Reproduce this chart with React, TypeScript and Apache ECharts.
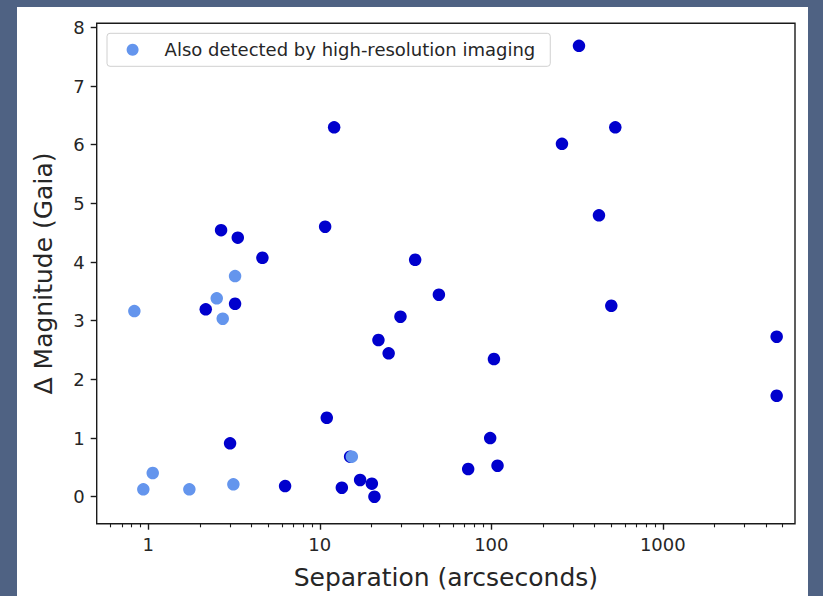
import React, { useEffect, useRef } from "react";
import * as echarts from "echarts";

// Points also detected by high-resolution imaging
const hiResX = [0.829, 0.935, 1.061, 1.735, 2.506, 2.716, 3.205, 3.133, 15.37];
const hiResY = [3.165, 0.126, 0.404, 0.126, 3.381, 3.034, 3.761, 0.211, 0.682];

// All other pairs
const otherX = [
  324.5, 12.12, 258.2, 528.4, 10.74, 424.4, 2.656, 3.324, 4.627, 35.97, 49.47,
  2.162, 3.205, 500.8, 29.53, 4613, 21.97, 25.2, 103.6, 4613, 10.98, 2.997, 98.5,
  15.02, 73.3, 108.7, 6.273, 13.44, 17.18, 20.11, 20.82,
];
const otherY = [
  7.686, 6.296, 6.016, 6.296, 4.602, 4.796, 4.543, 4.416, 4.073, 4.039, 3.443,
  3.194, 3.289, 3.255, 3.068, 2.727, 2.671, 2.444, 2.347, 1.721, 1.346, 0.91, 1.0,
  0.682, 0.472, 0.528, 0.182, 0.153, 0.285, 0.222, 0.0,
];

const xMajorTicks = [1, 10, 100, 1000];
const xMinorTicks = [
  0.6, 0.7, 0.8, 0.9, 2, 3, 4, 5, 6, 7, 8, 9, 20, 30, 40, 50, 60, 70, 80, 90,
  200, 300, 400, 500, 600, 700, 800, 900, 2000, 3000, 4000, 5000,
];
const yTicks = [0, 1, 2, 3, 4, 5, 6, 7, 8];

const legendLabel = "Also detected by high-resolution imaging";
const xTitle = "Separation (arcseconds)";
const yTitle = "Δ Magnitude (Gaia)";

const X_MIN = 0.5;
const X_MAX = 5900;

const FONT = "DejaVu Sans";
const TEXT = "#262626";
const SPINE = "#1a1a1a";

export default function App() {
  const ref = useRef<HTMLDivElement>(null);

  useEffect(() => {
    if (!ref.current) return;
    const chart = echarts.init(ref.current, undefined, { renderer: "svg" });
    // helper axes (tick marks only) share the log axis' pixel range
    const tickAxis = (values: number[], length: number, width: number) => ({
      type: "value",
      min: Math.log10(X_MIN),
      max: Math.log10(X_MAX),
      position: "bottom",
      gridIndex: 0,
      axisLine: { show: false, onZero: false },
      splitLine: { show: false },
      axisLabel: { show: false },
      axisPointer: { show: false },
      axisTick: {
        show: true,
        interval: 0,
        customValues: values.map((v) => Math.log10(v)),
        length,
        lineStyle: { color: SPINE, width },
      },
    });
    const option = {
      animation: false,
      backgroundColor: "transparent",
      textStyle: { fontFamily: FONT },
      grid: {
        left: 96.7,
        top: 23.3,
        right: 28,
        bottom: 72.3,
        show: true,
        borderColor: SPINE,
        borderWidth: 1.4,
        backgroundColor: "transparent",
      },
      legend: {
        data: [legendLabel],
        left: 107,
        top: 33.3,
        orient: "horizontal",
        icon: "circle",
        itemWidth: 12,
        itemHeight: 12,
        padding: [7.5, 15, 7.5, 19.6],
        backgroundColor: "#ffffff",
        borderColor: "#d0d0d0",
        borderWidth: 1,
        borderRadius: 3,
        textStyle: {
          fontFamily: FONT,
          fontSize: 18,
          color: TEXT,
          lineHeight: 18,
          padding: [0, 0, 0, 21],
        },
      },
      xAxis: [
        {
          type: "log",
          logBase: 10,
          min: X_MIN,
          max: X_MAX,
          position: "bottom",
          axisLine: { show: false, onZero: false },
          splitLine: { show: false },
          axisTick: { show: false },
          axisLabel: {
            customValues: xMajorTicks,
            interval: 0,
            formatter: (v: number) => String(Math.round(v)),
            fontSize: 18,
            fontFamily: FONT,
            color: TEXT,
            margin: 12,
          },
          name: xTitle,
          nameLocation: "middle",
          nameGap: 41,
          nameTextStyle: { fontSize: 25, color: TEXT, fontFamily: FONT },
        },
        tickAxis(xMajorTicks, 6, 1.4),
        tickAxis(xMinorTicks, 3.6, 1.1),
      ],
      yAxis: {
        type: "value",
        min: -0.46,
        max: 8.07,
        axisLine: { show: false, onZero: false },
        splitLine: { show: false },
        axisTick: {
          show: true,
          interval: 0,
          customValues: yTicks,
          length: 6,
          lineStyle: { color: SPINE, width: 1.4 },
        },
        axisLabel: {
          customValues: yTicks,
          fontSize: 18,
          fontFamily: FONT,
          color: TEXT,
          margin: 12,
        },
        name: yTitle,
        nameLocation: "middle",
        nameGap: 41,
        nameRotate: 90,
        nameTextStyle: { fontSize: 25, color: TEXT, fontFamily: FONT },
      },
      series: [
        {
          type: "scatter",
          name: "Other",
          xAxisIndex: 0,
          data: otherX.map((x, i) => [x, otherY[i]]),
          symbol: "circle",
          symbolSize: 12.5,
          itemStyle: { color: "#0000CD", opacity: 1 },
        },
        {
          type: "scatter",
          name: legendLabel,
          xAxisIndex: 0,
          data: hiResX.map((x, i) => [x, hiResY[i]]),
          symbol: "circle",
          symbolSize: 12.5,
          itemStyle: { color: "#6495ED", opacity: 1 },
        },
      ],
    };
    chart.setOption(option as any);
    return () => chart.dispose();
  }, []);

  return (
    <div
      style={{
        position: "fixed",
        left: 0,
        top: 0,
        width: 823,
        height: 596,
        background: "#4f6283",
      }}
    >
      <div
        style={{
          position: "absolute",
          left: 17,
          top: 7,
          width: 791,
          height: 589,
          background: "#ffffff",
        }}
      />
      <div
        ref={ref}
        style={{ position: "absolute", left: 0, top: 0, width: 823, height: 596 }}
      />
    </div>
  );
}
